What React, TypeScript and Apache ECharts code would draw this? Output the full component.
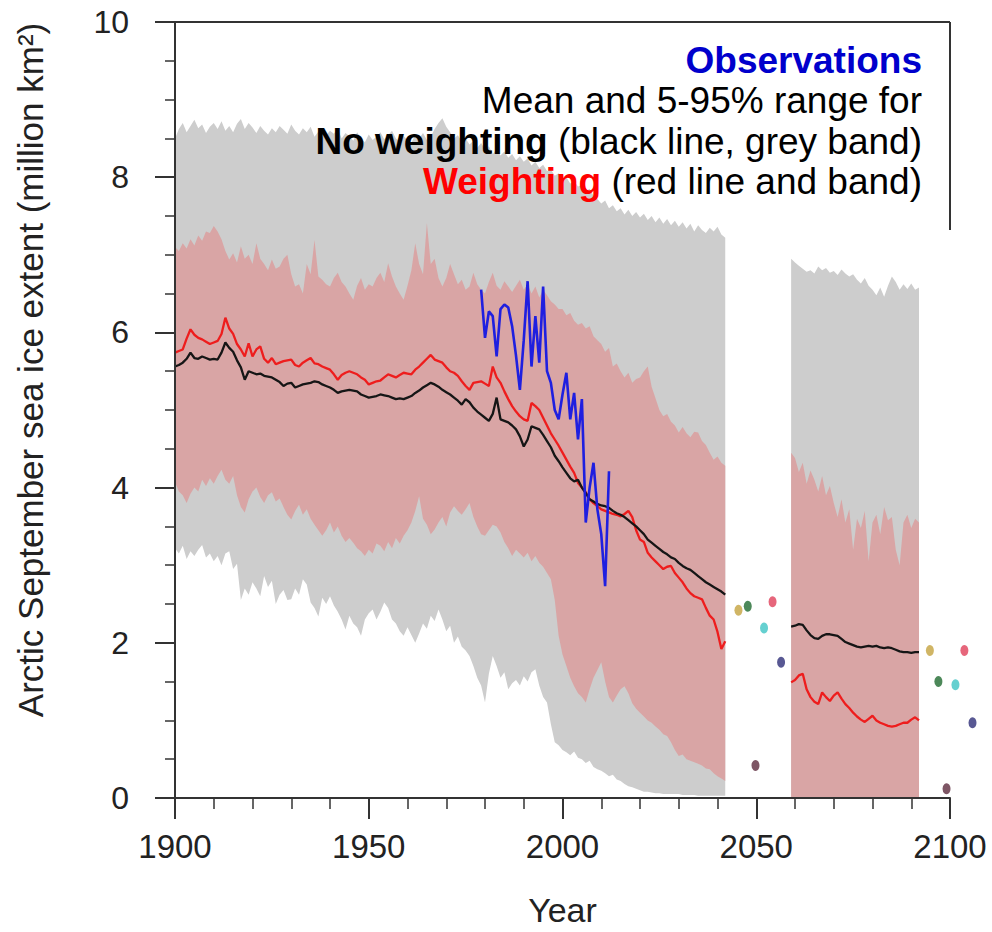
import React, { useEffect, useRef } from "react";
import * as echarts from "echarts";

// ---------- DATA ----------
const PANEL1_START = 1900; // annual values 1900..2042
const PANEL2_START = 2059; // annual values 2059..2092
const OBS_START = 1979; // annual values 1979..2012

// No weighting, 95th percentile (grey band top)
const GREY_UPPER_1 = [
  8.50, 8.62, 8.70, 8.58, 8.66, 8.74, 8.63, 8.68, 8.57, 8.65,
  8.70, 8.62, 8.72, 8.60, 8.66, 8.58, 8.69, 8.75, 8.62, 8.70,
  8.64, 8.57, 8.66, 8.60, 8.55, 8.63, 8.58, 8.66, 8.61, 8.56,
  8.68, 8.60, 8.55, 8.63, 8.58, 8.65, 8.52, 8.59, 8.62, 8.54,
  8.60, 8.56, 8.63, 8.50, 8.57, 8.53, 8.47, 8.58, 8.50, 8.45,
  8.55, 8.48, 8.52, 8.58, 8.49, 8.54, 8.60, 8.50, 8.46, 8.53,
  8.48, 8.44, 8.55, 8.50, 8.57, 8.48, 8.52, 8.62, 8.70, 8.76,
  8.65, 8.58, 8.50, 8.54, 8.46, 8.50, 8.42, 8.47, 8.38, 8.44,
  8.36, 8.40, 8.30, 8.36, 8.28, 8.33, 8.25, 8.30, 8.22, 8.27,
  8.20, 8.24, 8.15, 8.20, 8.12, 8.16, 8.08, 8.10, 8.02, 8.05,
  7.98, 8.00, 7.92, 7.95, 7.88, 7.90, 7.82, 7.85, 7.76, 7.72,
  7.66, 7.70, 7.60, 7.64, 7.56, 7.60, 7.52, 7.58, 7.50, 7.55,
  7.48, 7.53, 7.45, 7.50, 7.42, 7.48, 7.40, 7.46, 7.38, 7.44,
  7.36, 7.42, 7.34, 7.40, 7.30, 7.38, 7.32, 7.28, 7.35, 7.30,
  7.36, 7.26, 7.22,
];
// No weighting, 5th percentile (grey band bottom)
const GREY_LOWER_1 = [
  3.22, 3.15, 3.25, 3.08, 3.18, 3.12, 3.20, 3.26, 3.10, 3.15,
  3.05, 3.12, 3.00, 3.15, 3.18, 2.95, 3.02, 2.55, 2.70, 2.62,
  2.78, 2.70, 2.60, 2.86, 2.72, 2.80, 2.50, 2.62, 2.68, 2.55,
  2.56, 2.70, 2.62, 2.82, 2.75, 2.52, 2.45, 2.34, 2.58, 2.50,
  2.60, 2.48, 2.40, 2.30, 2.17, 2.35, 2.25, 2.20, 2.09, 2.30,
  2.38, 2.43, 2.30, 2.40, 2.52, 2.45, 2.30, 2.25, 2.15, 2.09,
  2.20, 2.10, 2.00, 2.12, 2.25, 2.18, 2.35, 2.28, 2.43, 2.30,
  2.15, 2.22, 2.00, 2.08, 1.95, 1.90, 1.83, 1.70, 1.55, 1.45,
  1.23, 1.60, 1.83, 1.70, 1.55, 1.62, 1.40, 1.48, 1.52, 1.45,
  1.57, 1.50, 1.62, 1.66, 1.45, 1.30, 1.23, 0.95, 0.72, 0.68,
  0.62, 0.59, 0.55, 0.60, 0.52, 0.50, 0.45, 0.48, 0.40, 0.37,
  0.35, 0.32, 0.28, 0.30, 0.24, 0.22, 0.18, 0.15, 0.14, 0.12,
  0.10, 0.08, 0.08, 0.07, 0.06, 0.06, 0.05, 0.05, 0.05, 0.05,
  0.05, 0.04, 0.04, 0.04, 0.04, 0.03, 0.03, 0.03, 0.03, 0.03,
  0.03, 0.03, 0.03,
];
// Weighting, 95th percentile (red band top)
const RED_UPPER_1 = [
  7.10, 7.05, 7.15, 7.08, 7.20, 7.12, 7.25, 7.18, 7.30, 7.28,
  7.37, 7.30, 7.20, 7.05, 6.94, 7.02, 6.90, 7.11, 6.95, 7.00,
  6.88, 7.15, 6.95, 6.88, 6.80, 6.94, 6.82, 6.85, 6.95, 7.00,
  6.75, 6.59, 6.62, 6.50, 6.88, 6.75, 7.19, 6.72, 6.68, 6.62,
  6.59, 6.70, 6.77, 6.65, 6.59, 6.50, 6.42, 6.60, 6.70, 6.55,
  6.62, 6.59, 6.70, 6.77, 6.65, 6.89, 6.72, 6.59, 6.50, 6.42,
  6.60, 6.80, 7.15, 6.88, 6.75, 7.41, 6.88, 6.95, 6.70, 6.59,
  6.70, 6.88, 6.75, 6.62, 6.68, 6.55, 6.59, 6.77, 6.62, 6.55,
  6.50, 6.65, 6.77, 6.60, 6.55, 6.66, 6.59, 6.52, 6.60, 6.68,
  6.55, 6.62, 6.50, 6.59, 6.45, 6.55, 6.48, 6.40, 6.36, 6.30,
  6.30, 6.22, 6.25, 6.15, 6.10, 6.12, 6.05, 6.08, 5.95, 5.90,
  5.85, 5.75, 5.80, 5.56, 5.60, 5.50, 5.42, 5.48, 5.35, 5.40,
  5.42, 5.50, 5.56, 5.30, 5.15, 5.00, 4.92, 4.95, 4.85, 4.80,
  4.71, 4.78, 4.70, 4.65, 4.72, 4.71, 4.60, 4.55, 4.45, 4.36,
  4.40, 4.32, 4.28,
];
// Weighting, 5th percentile (red band bottom)
const RED_LOWER_1 = [
  4.07, 3.95, 3.90, 3.80, 3.92, 4.00, 3.95, 4.10, 4.02, 4.12,
  4.05, 4.15, 4.23, 4.10, 4.05, 4.15, 3.90, 3.75, 3.68, 3.85,
  3.95, 4.00, 3.88, 3.80, 3.90, 3.94, 3.82, 3.86, 3.75, 3.65,
  3.59, 3.70, 3.78, 3.65, 3.72, 3.60, 3.52, 3.45, 3.38, 3.45,
  3.55, 3.42, 3.50, 3.38, 3.30, 3.35, 3.29, 3.22, 3.18, 3.12,
  3.20, 3.15, 3.28, 3.25, 3.18, 3.30, 3.22, 3.35, 3.28, 3.38,
  3.45, 3.55, 3.70, 3.89, 3.60, 3.52, 3.40, 3.46, 3.55, 3.62,
  3.50, 3.68, 3.76, 3.70, 3.65, 3.72, 3.80, 3.62, 3.50, 3.40,
  3.38, 3.45, 3.52, 3.50, 3.42, 3.30, 3.22, 3.12, 3.20, 3.15,
  3.10, 3.16, 3.05, 3.12, 3.03, 2.98, 2.90, 2.82, 2.55, 2.09,
  1.85, 1.70, 1.55, 1.44, 1.35, 1.30, 1.23, 1.40, 1.55, 1.65,
  1.75, 1.50, 1.30, 1.23, 1.32, 1.40, 1.44, 1.35, 1.22, 1.15,
  1.10, 1.05, 1.00, 0.97, 0.92, 0.88, 0.82, 0.80, 0.72, 0.62,
  0.54, 0.56, 0.50, 0.48, 0.46, 0.44, 0.42, 0.38, 0.37, 0.32,
  0.28, 0.25, 0.22,
];
// Mean, no weighting (black line)
const BLACK_MEAN_1 = [
  5.56, 5.58, 5.61, 5.66, 5.74, 5.67, 5.66, 5.69, 5.67, 5.65,
  5.66, 5.65, 5.74, 5.87, 5.80, 5.75, 5.64, 5.55, 5.39, 5.50,
  5.48, 5.46, 5.47, 5.44, 5.43, 5.42, 5.39, 5.36, 5.31, 5.34,
  5.35, 5.29, 5.31, 5.33, 5.34, 5.35, 5.37, 5.36, 5.33, 5.31,
  5.29, 5.26, 5.22, 5.24, 5.25, 5.26, 5.25, 5.24, 5.20, 5.18,
  5.16, 5.17, 5.18, 5.20, 5.19, 5.18, 5.16, 5.14, 5.15, 5.14,
  5.16, 5.18, 5.22, 5.25, 5.29, 5.32, 5.35, 5.33, 5.30, 5.26,
  5.23, 5.20, 5.16, 5.12, 5.07, 5.14, 5.10, 5.03, 4.98, 4.94,
  4.90, 4.86, 4.95, 5.16, 4.88, 4.86, 4.84, 4.80, 4.75, 4.66,
  4.53, 4.62, 4.79, 4.77, 4.75, 4.68, 4.60, 4.52, 4.41, 4.34,
  4.26, 4.19, 4.12, 4.08, 4.10, 4.00, 3.93, 3.85, 3.82, 3.79,
  3.77, 3.76, 3.74, 3.70, 3.67, 3.65, 3.62, 3.58, 3.54, 3.50,
  3.45, 3.40, 3.33, 3.29, 3.25, 3.21, 3.17, 3.14, 3.10, 3.08,
  3.03, 2.99, 2.96, 2.94, 2.90, 2.86, 2.82, 2.78, 2.75, 2.72,
  2.69, 2.66, 2.62,
];
// Mean, weighting (red line)
const RED_MEAN_1 = [
  5.74, 5.76, 5.78, 5.92, 6.04, 5.97, 5.93, 5.91, 5.88, 5.85,
  5.87, 5.89, 5.98, 6.19, 6.05, 5.98, 5.85, 5.78, 5.69, 5.86,
  5.69, 5.78, 5.82, 5.66, 5.61, 5.67, 5.59, 5.61, 5.63, 5.64,
  5.65, 5.58, 5.56, 5.61, 5.64, 5.67, 5.60, 5.59, 5.56, 5.54,
  5.52, 5.46, 5.39, 5.45, 5.48, 5.50, 5.48, 5.46, 5.42, 5.39,
  5.33, 5.35, 5.37, 5.38, 5.42, 5.46, 5.44, 5.42, 5.45, 5.48,
  5.47, 5.46, 5.52, 5.56, 5.61, 5.66, 5.71, 5.65, 5.63, 5.61,
  5.55, 5.50, 5.48, 5.44, 5.37, 5.31, 5.26, 5.35, 5.36, 5.37,
  5.34, 5.31, 5.56, 5.42, 5.35, 5.24, 5.14, 5.05, 4.98, 4.92,
  4.88, 4.86, 5.09, 5.05, 5.00, 4.90, 4.80, 4.70, 4.62, 4.54,
  4.45, 4.36, 4.27, 4.19, 4.06, 4.00, 3.94, 3.85, 3.80, 3.76,
  3.72, 3.70, 3.68, 3.66, 3.65, 3.63, 3.66, 3.70, 3.62, 3.45,
  3.33, 3.30, 3.16, 3.10, 3.05, 3.00, 2.95, 2.98, 2.99, 2.90,
  2.84, 2.78, 2.70, 2.64, 2.60, 2.58, 2.56, 2.45, 2.35, 2.30,
  2.14, 1.92, 2.02,
];

// Panel 2 (2059..2092); both 5th percentiles sit on zero
const GREY_UPPER_2 = [
  6.95, 6.90, 6.86, 6.82, 6.78, 6.80, 6.76, 6.85, 6.80, 6.83,
  6.77, 6.79, 6.74, 6.81, 6.76, 6.72, 6.75, 6.68, 6.63, 6.70,
  6.60, 6.55, 6.48, 6.58, 6.46, 6.60, 6.72, 6.65, 6.55, 6.62,
  6.56, 6.63, 6.55, 6.58,
];
const RED_UPPER_2 = [
  4.45, 4.38, 4.20, 4.32, 4.05, 4.22, 4.10, 3.95, 4.15, 3.90,
  4.02, 3.80, 3.62, 3.85, 3.55, 3.72, 3.20, 3.60, 3.48, 3.70,
  3.05, 3.55, 3.65, 3.40, 3.75, 3.58, 3.62, 3.20, 3.00, 3.55,
  3.65, 3.48, 3.60, 3.55,
];
const BLACK_MEAN_2 = [
  2.21, 2.22, 2.24, 2.23, 2.16, 2.10, 2.06, 2.05, 2.09, 2.11,
  2.11, 2.10, 2.09, 2.05, 2.01, 1.99, 1.97, 1.95, 1.94, 1.95,
  1.96, 1.95, 1.96, 1.94, 1.93, 1.94, 1.93, 1.91, 1.89, 1.88,
  1.88, 1.87, 1.88, 1.88,
];
const RED_MEAN_2 = [
  1.49, 1.52, 1.58, 1.60, 1.40, 1.30, 1.24, 1.21, 1.36, 1.30,
  1.25, 1.32, 1.36, 1.28, 1.21, 1.16, 1.10, 1.05, 1.01, 0.98,
  1.02, 1.06, 1.00, 0.97, 0.95, 0.93, 0.92, 0.93, 0.95, 0.97,
  0.97, 1.01, 1.04, 1.00,
];

// Observations 1979..2012 (blue line)
const OBSERVATIONS = [
  6.55, 5.93, 6.27, 6.21, 5.69, 6.30, 6.36, 6.32, 6.08, 5.70,
  5.26, 5.90, 6.66, 5.56, 6.21, 5.61, 6.59, 5.50, 5.35, 5.00,
  4.88, 5.20, 5.48, 4.88, 5.22, 4.62, 5.14, 3.55, 4.00, 4.32,
  3.72, 3.40, 2.73, 4.21,
];

// Individual model values (coloured dots) around mid-century and end of century
const DOT_YEARS = [2045.4, 2047.8, 2049.8, 2052.0, 2054.2, 2056.4, 2094.8, 2097.0, 2099.1, 2101.4, 2103.7, 2105.8];
const DOT_VALUES = [2.42, 2.47, 0.42, 2.19, 2.53, 1.75, 1.90, 1.50, 0.12, 1.46, 1.90, 0.97];
const DOT_COLORS = ["#c4a33e", "#1f6a30", "#5e2c3e", "#3fc4c4", "#e0405a", "#2e2e78",
                    "#c4a33e", "#1f6a30", "#5e2c3e", "#3fc4c4", "#e0405a", "#2e2e78"];

// Axis ticks
const X_MIN = 1900, X_MAX = 2100, X_STEP = 50;
const Y_MIN = 0, Y_MAX = 10, Y_STEP = 2;
const FRAME_RIGHT_END = 7.32; // the right frame edge stops here

// Texts
const Y_NAME = "Arctic September sea ice extent (million km\u00B2)";
const X_NAME = "Year";
const LEGEND_OBS = "Observations";
const LEGEND_LINE2 = "Mean and 5-95% range for";
const LEGEND_NOW_BOLD = "No weighting";
const LEGEND_NOW_REST = " (black line, grey band)";
const LEGEND_W_BOLD = "Weighting";
const LEGEND_W_REST = " (red line and band)";

// ---------- STYLE ----------
const FONT = '"Liberation Sans", Arial, Helvetica, sans-serif';
const GREY_BAND = "#cdcdcd";
const RED_BAND = "#d9a5a5";
const BLACK_LINE = "#161616";
const RED_LINE = "#ee1d1d";
const BLUE_LINE = "#1f1fe0";
const AXIS_COLOR = "#333333";

const toPairs = (start: number, vals: number[]) => vals.map((v, i) => [start + i, v]);

// A 5-95% band drawn as one polygon through the cartesian scales
const bandSeries = (name: string, start: number, upper: number[], lower: number[] | null, color: string, z: number) => ({
  type: "custom",
  name,
  silent: true,
  z,
  clip: true,
  coordinateSystem: "cartesian2d",
  data: [[start, upper[0]]],
  renderItem: (_params: any, api: any) => {
    const pts: number[][] = [];
    for (let i = 0; i < upper.length; i++) pts.push(api.coord([start + i, upper[i]]));
    for (let i = upper.length - 1; i >= 0; i--) pts.push(api.coord([start + i, lower ? lower[i] : Y_MIN]));
    return { type: "polygon", shape: { points: pts }, style: { fill: color, stroke: "none" } };
  },
});

export default function App() {
  const ref = useRef<HTMLDivElement>(null);

  useEffect(() => {
    if (!ref.current) return;
    const chart = echarts.init(ref.current, undefined, { renderer: "svg" });

    const meanLine = (name: string, data: any[], color: string, width: number, z: number) => ({
      type: "line", name, data, showSymbol: false, symbol: "none",
      lineStyle: { color, width }, silent: true, z,
    });

    const option: any = {
      animation: false,
      backgroundColor: "#ffffff",
      grid: { left: 175, right: 42, top: 22, bottom: 133, containLabel: false },
      xAxis: {
        type: "value", min: X_MIN, max: X_MAX, interval: X_STEP, z: 10,
        name: X_NAME, nameLocation: "middle", nameGap: 95,
        nameTextStyle: { fontFamily: FONT, fontSize: 34, color: "#222" },
        axisLine: { show: true, onZero: false, lineStyle: { color: AXIS_COLOR, width: 2 } },
        axisTick: { show: true, length: 21, lineStyle: { color: AXIS_COLOR, width: 2 } },
        minorTick: { show: true, splitNumber: 5, length: 11, lineStyle: { color: AXIS_COLOR, width: 1.5 } },
        axisLabel: { fontFamily: FONT, fontSize: 33, color: "#222", margin: 32, formatter: (v: number) => String(v) },
        splitLine: { show: false },
      },
      yAxis: {
        type: "value", min: Y_MIN, max: Y_MAX, interval: Y_STEP, z: 10,
        axisLine: { show: true, lineStyle: { color: AXIS_COLOR, width: 2 } },
        axisTick: { show: true, length: 20, lineStyle: { color: AXIS_COLOR, width: 2 } },
        minorTick: { show: true, splitNumber: 4, length: 10, lineStyle: { color: AXIS_COLOR, width: 1.5 } },
        axisLabel: { fontFamily: FONT, fontSize: 32, color: "#222", margin: 46 },
        splitLine: { show: false },
      },
      graphic: [
        {
          type: "text", x: 30, y: 370, rotation: Math.PI / 2, z: 100,
          style: { text: Y_NAME, font: `35px ${FONT}`, fill: "#222", align: "center", verticalAlign: "middle" },
        },
        {
          type: "text", x: 922, y: 60, z: 100,
          style: { text: LEGEND_OBS, font: `bold 37px ${FONT}`, fill: "#0000cc", align: "right", verticalAlign: "middle" },
        },
        {
          type: "text", x: 922, y: 100, z: 100,
          style: { text: LEGEND_LINE2, font: `37px ${FONT}`, fill: "#000", align: "right", verticalAlign: "middle" },
        },
        {
          type: "text", x: 922, y: 141, z: 100,
          style: {
            text: `{b|${LEGEND_NOW_BOLD}}{r|${LEGEND_NOW_REST}}`, align: "right", verticalAlign: "middle",
            rich: {
              b: { fontFamily: FONT, fontSize: 37, fontWeight: "bold", fill: "#000" },
              r: { fontFamily: FONT, fontSize: 37, fill: "#000" },
            },
          },
        },
        {
          type: "text", x: 922, y: 181, z: 100,
          style: {
            text: `{b|${LEGEND_W_BOLD}}{r|${LEGEND_W_REST}}`, align: "right", verticalAlign: "middle",
            rich: {
              b: { fontFamily: FONT, fontSize: 37, fontWeight: "bold", fill: "#ff0000" },
              r: { fontFamily: FONT, fontSize: 37, fill: "#000" },
            },
          },
        },
      ],
      series: [
        bandSeries("grey-band-1", PANEL1_START, GREY_UPPER_1, GREY_LOWER_1, GREY_BAND, 1),
        bandSeries("red-band-1", PANEL1_START, RED_UPPER_1, RED_LOWER_1, RED_BAND, 2),
        bandSeries("grey-band-2", PANEL2_START, GREY_UPPER_2, null, GREY_BAND, 1),
        bandSeries("red-band-2", PANEL2_START, RED_UPPER_2, null, RED_BAND, 2),
        meanLine("red-mean-1", toPairs(PANEL1_START, RED_MEAN_1), RED_LINE, 2.3, 4),
        meanLine("black-mean-1", toPairs(PANEL1_START, BLACK_MEAN_1), BLACK_LINE, 2.3, 5),
        meanLine("red-mean-2", toPairs(PANEL2_START, RED_MEAN_2), RED_LINE, 2.3, 4),
        meanLine("black-mean-2", toPairs(PANEL2_START, BLACK_MEAN_2), BLACK_LINE, 2.3, 5),
        meanLine("observations", toPairs(OBS_START, OBSERVATIONS), BLUE_LINE, 2.6, 6),
        {
          type: "scatter", name: "models", clip: false, silent: true, z: 7,
          symbol: "circle", symbolSize: [8, 11],
          data: DOT_YEARS.map((yr, i) => ({ value: [yr, DOT_VALUES[i]], itemStyle: { color: DOT_COLORS[i] } })),
          markLine: {
            silent: true, symbol: ["none", "none"], label: { show: false },
            lineStyle: { color: AXIS_COLOR, width: 2, type: "solid" },
            data: [
              [{ coord: [X_MIN, Y_MAX] }, { coord: [X_MAX, Y_MAX] }],
              [{ coord: [X_MAX, Y_MAX] }, { coord: [X_MAX, FRAME_RIGHT_END] }],
            ],
          },
        },
      ],
    };

    chart.setOption(option);
    return () => chart.dispose();
  }, []);

  return (
    <div
      ref={ref}
      style={{ position: "absolute", left: 0, top: 0, width: 992, height: 932, background: "#fff" }}
    />
  );
}
